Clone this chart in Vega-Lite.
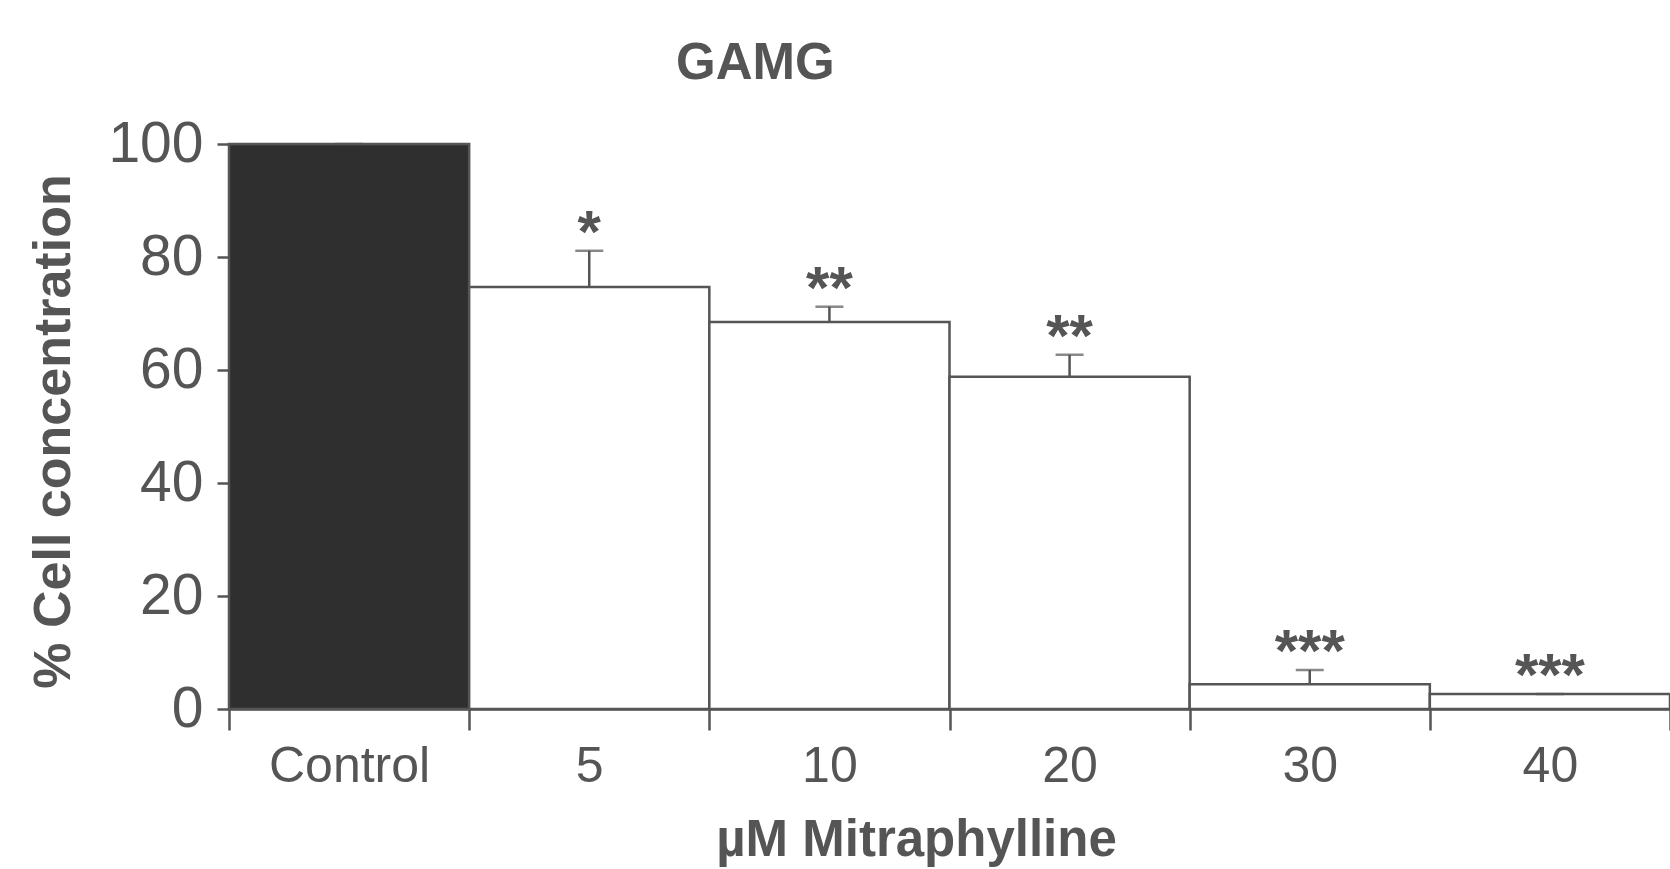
{
  "$schema": "https://vega.github.io/schema/vega-lite/v6.json",
  "autosize": {"type": "none"},
  "padding": {"left": 229, "top": 144, "right": 0, "bottom": 160},
  "width": 1441,
  "height": 565,
  "background": "white",
  "config": {
    "view": {"stroke": null},
    "font": "Liberation Sans",
    "axis": {"grid": false, "domainColor": "#555", "tickColor": "#555", "labelColor": "#555", "titleColor": "#555", "domainWidth": 2.5, "tickWidth": 2.5, "labelFont": "Liberation Sans", "titleFont": "Liberation Sans"}
  },
  "title": {"text": "GAMG", "anchor": "start", "dx": 649, "offset": 7, "fontSize": 51, "fontWeight": "bold", "color": "#555", "font": "Liberation Sans"},
  "data": {"values": [
    {"dose": "Control", "value": 100, "err_high": 100, "sig": ""},
    {"dose": "5", "value": 74.7, "err_high": 81.1, "sig": "*"},
    {"dose": "10", "value": 68.5, "err_high": 71.2, "sig": "**"},
    {"dose": "20", "value": 58.8, "err_high": 62.7, "sig": "**"},
    {"dose": "30", "value": 4.4, "err_high": 6.9, "sig": "***"},
    {"dose": "40", "value": 2.65, "err_high": 2.65, "sig": "***"}
  ]},
  "encoding": {
    "x": {"field": "dose", "type": "nominal", "sort": null,
      "scale": {"paddingInner": 0, "paddingOuter": 0},
      "axis": {"title": "µM Mitraphylline", "labelAngle": 0, "labelFontSize": 50, "labelPadding": 11, "tickSize": 21, "tickBand": "extent",
        "titleFontSize": 51, "titleFontWeight": "bold", "titleX": 687, "titleY": 146, "titleBaseline": "alphabetic"}}
  },
  "layer": [
    {"mark": {"type": "bar", "stroke": "#555", "strokeWidth": 2.5},
     "encoding": {
       "y": {"field": "value", "type": "quantitative",
         "scale": {"domain": [0, 100]},
         "axis": {"title": "% Cell concentration", "values": [0, 20, 40, 60, 80, 100], "labelFontSize": 57, "labelPadding": 14, "tickSize": 12,
           "titleFontSize": 52, "titleFontWeight": "bold", "titleX": -176, "titleY": 287, "titleBaseline": "middle", "titleAngle": -90}},
       "fill": {"condition": {"test": "datum.dose === 'Control'", "value": "#2f2f2f"}, "value": "#ffffff"}
     }},
    {"mark": {"type": "rule", "color": "#555", "strokeWidth": 2.5},
     "encoding": {"y": {"field": "value", "type": "quantitative"}, "y2": {"field": "err_high"}}},
    {"mark": {"type": "tick", "color": "#555", "thickness": 2.5, "size": 28},
     "encoding": {"y": {"field": "err_high", "type": "quantitative"}}},
    {"mark": {"type": "text", "fontSize": 60, "fontWeight": "bold", "color": "#555", "baseline": "alphabetic", "dy": 1},
     "encoding": {"y": {"field": "err_high", "type": "quantitative"}, "text": {"field": "sig"}}}
  ]
}
